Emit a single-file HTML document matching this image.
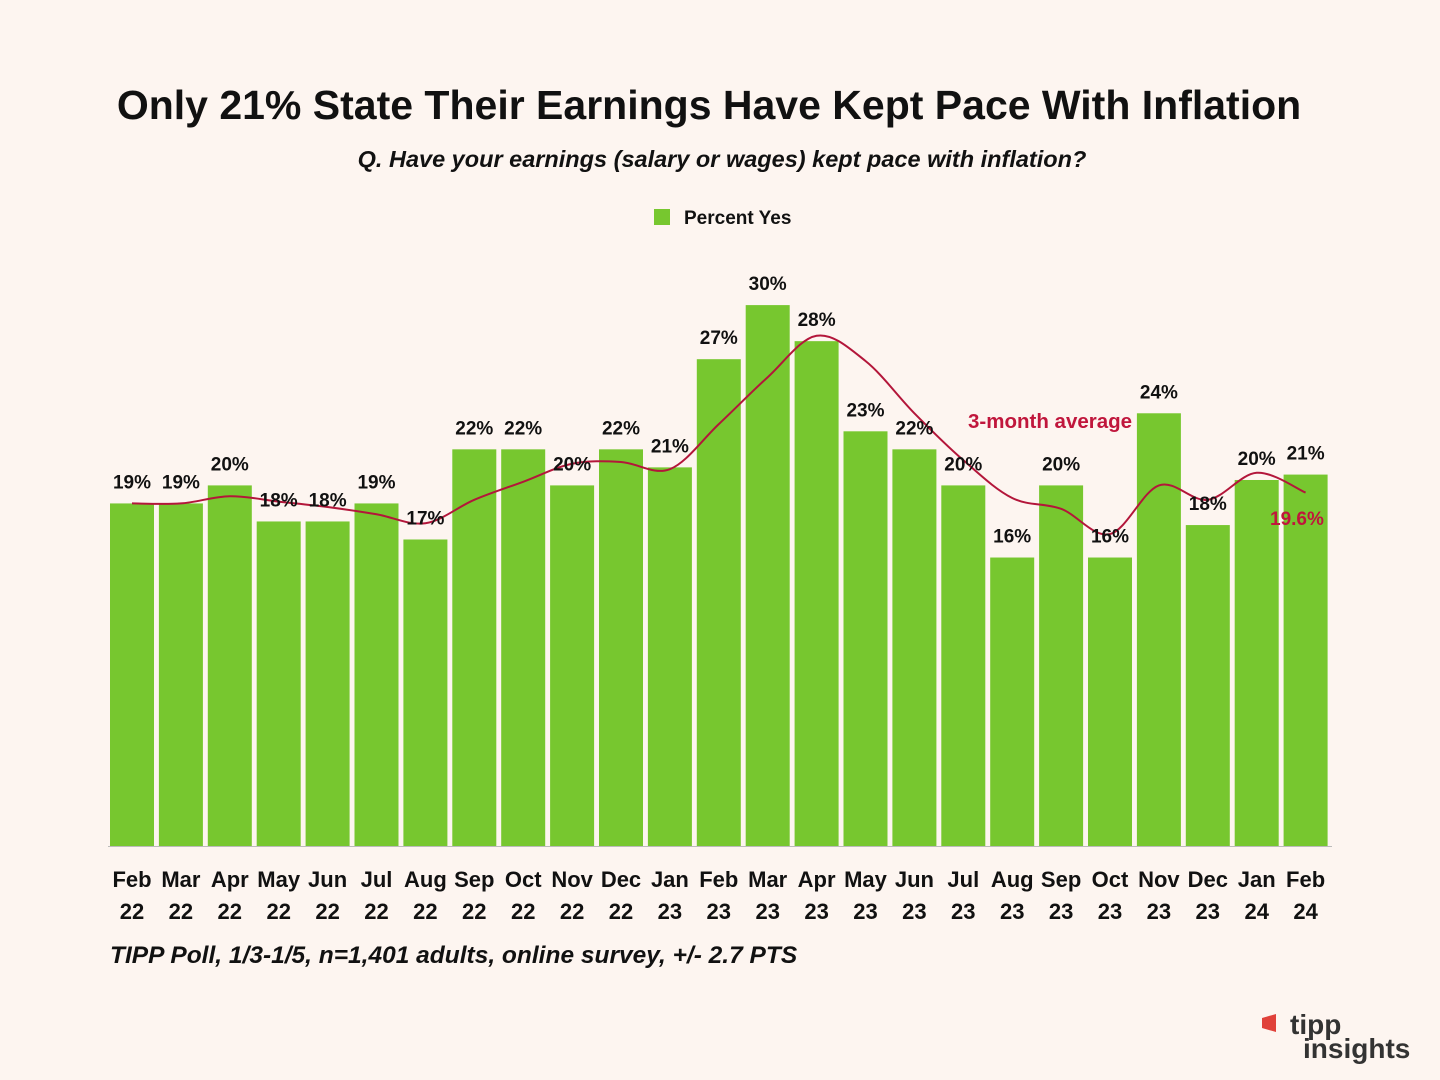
<!DOCTYPE html>
<html><head><meta charset="utf-8"><style>
body{margin:0;background:#fdf5f0;}
svg{display:block;font-family:"Liberation Sans",sans-serif;}
</style></head><body>
<svg width="1440" height="1080" viewBox="0 0 1440 1080">
<rect width="1440" height="1080" fill="#fdf5f0"/>
<text x="709" y="119" text-anchor="middle" font-size="41" font-weight="bold" fill="#111">Only 21% State Their Earnings Have Kept Pace With Inflation</text>
<text x="722" y="167" text-anchor="middle" font-size="23.5" font-weight="bold" font-style="italic" fill="#111">Q. Have your earnings (salary or wages) kept pace with inflation?</text>
<rect x="654" y="209" width="16" height="16" fill="#77c72f"/>
<text x="684" y="224" font-size="19" font-weight="bold" fill="#111">Percent Yes</text>
<g id="bars"></g><g id="line"></g><g id="labels"></g><g id="xlabels"></g>
<line x1="108" y1="846.5" x2="1332" y2="846.5" stroke="#bbb" stroke-width="1"/>
<text x="968" y="428" font-size="20.5" font-weight="bold" fill="#c0163c">3-month average</text>
<text x="1270" y="525" font-size="19" font-weight="bold" fill="#c0163c">19.6%</text>
<text x="110" y="963" font-size="24.5" font-weight="bold" font-style="italic" fill="#111">TIPP Poll, 1/3-1/5, n=1,401 adults, online survey, +/- 2.7 PTS</text>
<g>
<path d="M1262 1018 l14 -4 v18 l-14 -4z" fill="#e0413a"/>
<text x="1290" y="1034" font-size="28" font-weight="bold" fill="#333">tipp</text>
<text x="1303" y="1058" font-size="28" font-weight="bold" fill="#333">insights</text>
</g>
</svg>
<script>
const categories=["Feb 22","Mar 22","Apr 22","May 22","Jun 22","Jul 22","Aug 22","Sep 22","Oct 22","Nov 22","Dec 22","Jan 23","Feb 23","Mar 23","Apr 23","May 23","Jun 23","Jul 23","Aug 23","Sep 23","Oct 23","Nov 23","Dec 23","Jan 24","Feb 24"];
const values=[19,19,20,18,18,19,17,22,22,20,22,21,27,30,28,23,22,20,16,20,16,24,17.8,20.3,20.6];
const valueLabels=["19%","19%","20%","18%","18%","19%","17%","22%","22%","20%","22%","21%","27%","30%","28%","23%","22%","20%","16%","20%","16%","24%","18%","20%","21%"];
const average=[19,19,19.4,19.1,18.8,18.4,17.9,19.2,20.2,21.2,21.3,20.9,23.4,26,28.3,26.9,24,21.4,19.3,18.7,17.3,20,19.2,20.7,19.6];
const NS="http://www.w3.org/2000/svg";
const x0=110,slot=48.9,bw=44,base=846,scale=18.03;
const xc=i=>x0+i*slot+bw/2;
const y=v=>base-v*scale;
const bars=document.getElementById('bars'),lab=document.getElementById('labels'),xl=document.getElementById('xlabels');
values.forEach((v,i)=>{
 const r=document.createElementNS(NS,'rect');
 r.setAttribute('x',x0+i*slot);r.setAttribute('y',y(v));r.setAttribute('width',bw);r.setAttribute('height',base-y(v));r.setAttribute('fill','#77c72f');
 
 
 bars.appendChild(r);
 const t=document.createElementNS(NS,'text');
 t.setAttribute('x',xc(i));t.setAttribute('y',y(v)-15);t.setAttribute('text-anchor','middle');t.setAttribute('font-size','19');t.setAttribute('font-weight','bold');t.setAttribute('fill','#111');
 t.textContent=valueLabels[i];
 
 
 lab.appendChild(t);
 const parts=categories[i].split(' ');
 parts.forEach((p,k)=>{
  const c=document.createElementNS(NS,'text');
  c.setAttribute('x',xc(i));c.setAttribute('y',887+k*32);c.setAttribute('text-anchor','middle');c.setAttribute('font-size','22');c.setAttribute('font-weight','bold');c.setAttribute('fill','#111');
  c.textContent=p;
  
  
  xl.appendChild(c);
 });
});
const pts=average.map((v,i)=>[xc(i),y(v)]);
let d='M'+pts[0][0]+','+pts[0][1];
for(let i=0;i<pts.length-1;i++){
 const p0=pts[Math.max(0,i-1)],p1=pts[i],p2=pts[i+1],p3=pts[Math.min(pts.length-1,i+2)];
 const c1=[p1[0]+(p2[0]-p0[0])/6,p1[1]+(p2[1]-p0[1])/6],c2=[p2[0]-(p3[0]-p1[0])/6,p2[1]-(p3[1]-p1[1])/6];
 d+=' C'+c1+' '+c2+' '+p2;
}
const path=document.createElementNS(NS,'path');
path.setAttribute('d',d);path.setAttribute('fill','none');path.setAttribute('stroke','#b3163a');path.setAttribute('stroke-width','2');


document.getElementById('line').appendChild(path);
</script>
</body></html>
